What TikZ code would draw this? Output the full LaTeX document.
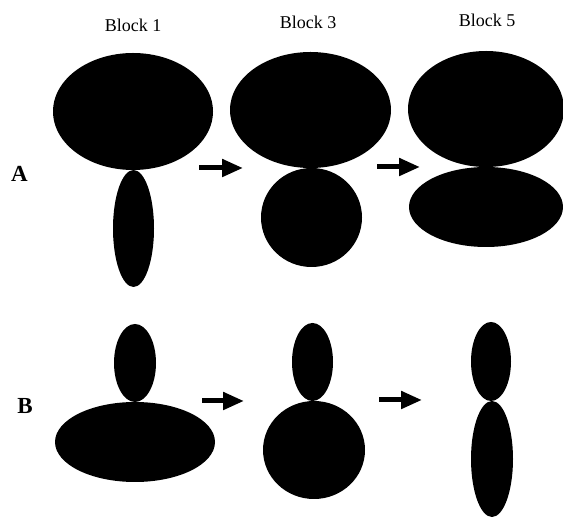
\documentclass[tikz,border=0pt]{standalone}
\usepackage{fontspec}
\setmainfont{Liberation Serif}
\usetikzlibrary{arrows.meta}
\begin{document}
\begin{tikzpicture}[x=1pt,y=-1pt,
  blob/.style={fill=black},
  steparrow/.style={line width=5pt,-{Triangle[length=21pt,width=17pt]}},
  blocklabel/.style={font=\fontsize{18}{20}\selectfont,inner sep=0pt},
  rowlabel/.style={font=\fontsize{23}{25}\selectfont\bfseries,inner sep=0pt}]
\useasboundingbox (0,0) rectangle (563,518);
% labels
\node[blocklabel] (b1) at (133,25) {Block 1};
\node[blocklabel] (b3) at (308,22) {Block 3};
\node[blocklabel] (b5) at (487,20) {Block 5};
\node[rowlabel] (la) at (19.5,173.5) {A};
\node[rowlabel] (lb) at (25,406.5) {B};
% Row A
\fill[blob] (133,111.5) ellipse [x radius=80pt, y radius=58.5pt];
\fill[blob] (133.5,228.5) ellipse [x radius=20.5pt, y radius=58.5pt];
\fill[blob] (310.5,110) ellipse [x radius=80.5pt, y radius=58pt];
\fill[blob] (311.5,217.5) ellipse [x radius=50.5pt, y radius=49.5pt];
\fill[blob] (486,109) ellipse [x radius=78pt, y radius=58pt];
\fill[blob] (486,207) ellipse [x radius=77pt, y radius=40pt];
\coordinate (a1s) at (199,168);
\coordinate (a1e) at (243,168);
\coordinate (a2s) at (377,167);
\coordinate (a2e) at (420,167);
\draw[steparrow] (a1s) -- (a1e);
\draw[steparrow] (a2s) -- (a2e);
% Row B
\fill[blob] (135,363) ellipse [x radius=21pt, y radius=39pt];
\fill[blob] (135,442) ellipse [x radius=80pt, y radius=40pt];
\fill[blob] (312.5,362) ellipse [x radius=20.5pt, y radius=39pt];
\fill[blob] (314,450) ellipse [x radius=51pt, y radius=49pt];
\fill[blob] (491,361.5) ellipse [x radius=20pt, y radius=39.5pt];
\fill[blob] (492,459) ellipse [x radius=21pt, y radius=58pt];
\coordinate (b1s) at (202,401);
\coordinate (b1e) at (244,401);
\coordinate (b2s) at (379,400);
\coordinate (b2e) at (422,400);
\draw[steparrow] (b1s) -- (b1e);
\draw[steparrow] (b2s) -- (b2e);
\end{tikzpicture}
\end{document}
